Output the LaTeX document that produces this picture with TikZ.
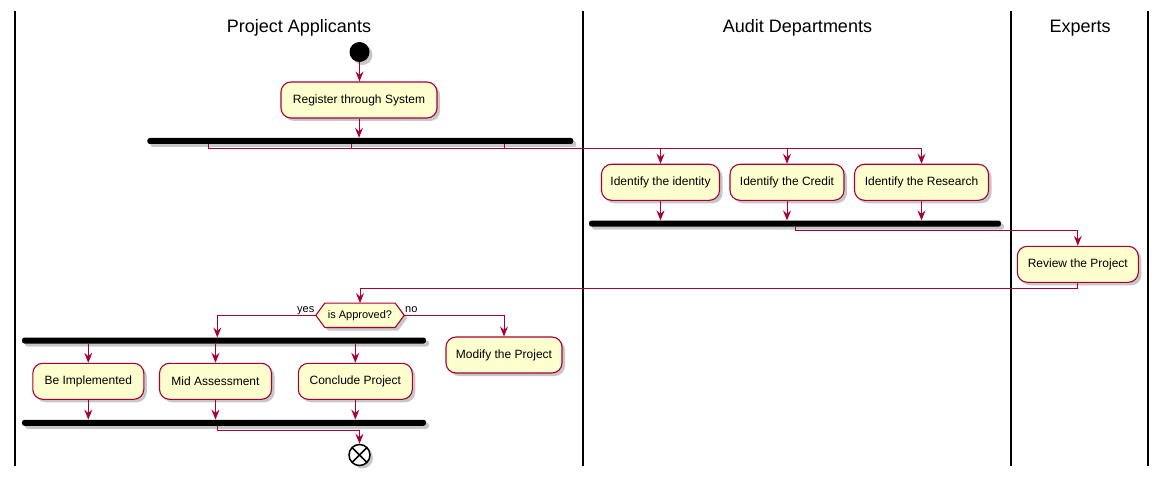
\documentclass[tikz,border=0pt]{standalone}
\usepackage{fontspec}
\setmainfont{Liberation Sans}
\usetikzlibrary{arrows.meta,shadows,calc}
\pgfdeclarelayer{background}
\pgfsetlayers{background,main}
\definecolor{pfill}{HTML}{FEFECE}
\definecolor{pline}{HTML}{A80036}
\begin{document}
\begin{tikzpicture}[x=1pt,y=-1pt,
 shad/.style={drop shadow={shadow xshift=3pt,shadow yshift=-3pt,opacity=0.4,fill=black!55}},
 act/.style={draw=pline,fill=pfill,line width=1.1pt,rounded corners=10pt,minimum height=36pt,inner xsep=0pt,shad,font=\fontsize{12}{14}\selectfont,text=black},
 bar/.style={fill=black,rounded corners=2.5pt,minimum height=6pt,inner sep=0pt,shad},
 flow/.style={draw=pline,line width=1pt,-{Stealth[length=10pt,width=8pt,inset=3.5pt]}},
 lane/.style={draw=black,line width=1.5pt},
 title/.style={font=\fontsize{18}{21}\selectfont,anchor=base,inner sep=0pt},
 lbl/.style={font=\fontsize{11}{13}\selectfont,inner sep=0pt}]
\useasboundingbox (0,0) rectangle (1166,481);
% swimlanes
\draw[lane] (15,11.5) -- (15,466);
\draw[lane] (583,11.5) -- (583,466);
\draw[lane] (1011,11.5) -- (1011,466);
\draw[lane] (1148,11.5) -- (1148,466);
\node[title] (t1) at (299,32.5) {Project Applicants};
\node[title] (t2) at (797.5,32.5) {Audit Departments};
\node[title] (t3) at (1080,32.5) {Experts};
% nodes
\node[circle,fill=black,minimum size=20pt,inner sep=0pt,shad] (start) at (359.5,52) {};
\node[act,minimum width=156pt] (reg) at (359,100) {Register through System};
\node[bar,minimum width=426pt] (b1) at (360.3,141) {};
\node[act,minimum width=118pt] (id1) at (660.5,182.3) {Identify the identity};
\node[act,minimum width=114pt] (id2) at (787,182.3) {Identify the Credit};
\node[act,minimum width=134pt] (id3) at (921.5,182.3) {Identify the Research};
\node[bar,minimum width=412pt] (b2) at (795,223.6) {};
\node[act,minimum width=121pt] (rev) at (1077.8,264.3) {Review the Project};
\node[inner sep=0pt,minimum width=88pt,minimum height=24pt,font=\fontsize{11}{13}\selectfont] (dec) at (360,315.3) {is Approved?};
\begin{pgfonlayer}{background}
\path[draw=pline,fill=pfill,line width=1.1pt,shad] (dec.west) -- ($(dec.north west)+(9,0)$) -- ($(dec.north east)+(-9,0)$) -- (dec.east) -- ($(dec.south east)+(-9,0)$) -- ($(dec.south west)+(9,0)$) -- cycle;
\end{pgfonlayer}
\node[lbl,anchor=base east] (yes) at (314.5,312) {yes};
\node[lbl,anchor=base west] (no) at (405,312) {no};
\node[act,minimum width=116pt] (mod) at (504,355) {Modify the Project};
\node[bar,minimum width=404pt] (b3) at (224,340.5) {};
\node[act,minimum width=111pt] (be) at (88.3,381.3) {Be Implemented};
\node[act,minimum width=112pt] (mid) at (215.5,381.3) {Mid Assessment};
\node[act,minimum width=114pt] (conc) at (355.3,381.3) {Conclude Project};
\node[bar,minimum width=404pt] (b4) at (224,422.8) {};
\node[circle,draw=black,fill=white,line width=1.5pt,minimum size=21pt,inner sep=0pt,shad] (end) at (359.5,455) {};
\draw[line width=1.5pt] ($(end.center)!0.9!(end.north west)$) -- ($(end.center)!0.9!(end.south east)$);
\draw[line width=1.5pt] ($(end.center)!0.9!(end.north east)$) -- ($(end.center)!0.9!(end.south west)$);
% coordinates on bars
\coordinate (f1a) at (208.3,144);
\coordinate (f1b) at (351.7,144);
\coordinate (f1c) at (504.3,144);
\coordinate (j2) at (795,226.6);
\coordinate (b3in) at (217.3,337.5);
\coordinate (j4) at (217.3,425.8);
% connectors
\draw[flow] (start.south) -- (start.south |- reg.north);
\draw[flow] (reg.south) -- (reg.south |- b1.north);
\draw[flow] (f1a) -- ++(0,4.3) -| (id1.north);
\draw[flow] (f1b) -- ++(0,4.3) -| (id2.north);
\draw[flow] (f1c) -- ++(0,4.3) -| (id3.north);
\draw[flow] (id1.south) -- (id1.south |- b2.north);
\draw[flow] (id2.south) -- (id2.south |- b2.north);
\draw[flow] (id3.south) -- (id3.south |- b2.north);
\draw[flow] (j2) -- ++(0,4.2) -| (rev.north);
\draw[flow] (rev.south) -- ++(0,5.6) -| (dec.north);
\draw[flow] (dec.west) -| (b3in);
\draw[flow] (dec.east) -| (mod.north);
\draw[flow] (be.north |- b3.south) -- (be.north);
\draw[flow] (mid.north |- b3.south) -- (mid.north);
\draw[flow] (conc.north |- b3.south) -- (conc.north);
\draw[flow] (be.south) -- (be.south |- b4.north);
\draw[flow] (mid.south) -- (mid.south |- b4.north);
\draw[flow] (conc.south) -- (conc.south |- b4.north);
\draw[flow] (j4) -- ++(0,4.3) -| (end.north);
\end{tikzpicture}
\end{document}
